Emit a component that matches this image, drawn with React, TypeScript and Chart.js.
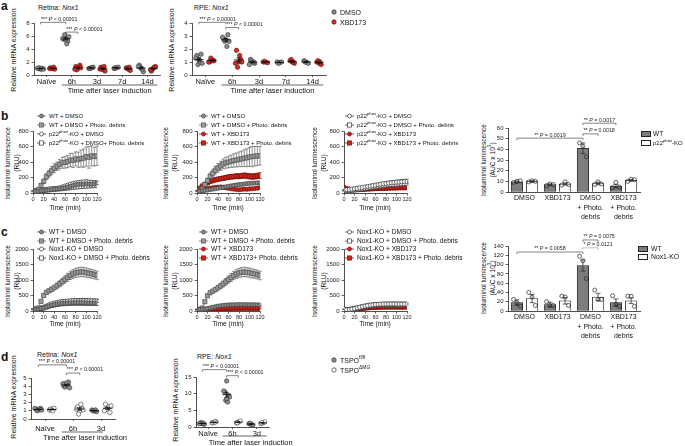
import React, { useEffect, useRef } from "react";
import { Chart, registerables } from "chart.js";

Chart.register(...registerables);

const FONT = "'Liberation Sans', Arial, Helvetica, sans-serif";
Chart.defaults.font.family = FONT;
Chart.defaults.color = "#1a1a1a";

// ================= DATA =================
const TIME_MIN = [0, 5, 10, 15, 20, 25, 30, 35, 40, 45, 50, 55, 60, 65, 70, 75, 80, 85, 90, 95, 100, 105, 110, 115, 120];

// ---- panel a (relative mRNA, dot plots) ----
const A_CATS = ["Naïve", "6h", "3d", "7d", "14d"];
const A1_DMSO = [[0.9, 1.0, 1.0, 1.1, 0.95, 1.05, 0.9], [5.8, 5.5, 5.2, 6.2, 4.8, 5.6, 5.9, 5.4], [1.1, 1.0, 1.2, 1.0, 1.1], [1.1, 1.0, 1.2, 1.1], [1.0, 1.5, 0.5, 1.2, 0.9, 1.3]];
const A1_XBD = [[1.0, 1.1, 0.9, 1.0, 1.2, 1.0], [1.0, 1.3, 1.5, 0.8, 1.2, 0.9, 1.1], [0.8, 1.2, 0.6, 1.0, 1.3, 0.9], [0.9, 1.1, 0.7, 1.0, 1.2], [1.1, 0.6, 1.3, 0.9, 1.2, 0.8]];
const A2_DMSO = [[1.2, 1.5, 1.6, 0.8, 1.0, 1.3, 0.9], [2.7, 2.8, 3.1, 2.6, 2.2, 2.9, 2.6], [1.0, 1.2, 0.9, 1.1, 1.0, 0.8], [0.95, 1.0, 1.0, 0.9], [1.0, 1.1, 0.9, 1.0]];
const A2_XBD = [[1.2, 1.0, 1.1, 1.3, 1.1, 1.0], [1.0, 1.9, 1.2, 0.6, 1.5, 0.9, 1.0], [1.0, 1.0, 0.95, 1.05], [1.0, 1.1, 0.9, 1.2, 1.0], [0.9, 1.0, 0.8, 1.1, 1.0]];

// ---- panel d ----
const D_CATS = ["Naïve", "6h", "3d"];
const D1_FL = [[1.1, 1.2, 1.3, 1.0, 1.2, 1.3, 1.1], [4.2, 4.0, 4.5, 3.9, 4.1, 4.3, 3.8, 4.4], [1.0, 1.1, 0.9, 1.0, 1.1]];
const D1_DMG = [[1.2, 1.1, 1.3, 1.2, 1.0], [1.0, 1.5, 1.3, 0.6, 1.8, 1.2, 1.1], [1.3, 1.8, 0.8, 1.2, 1.5, 1.0, 1.6]];
const D2_FL = [[1.0, 1.2, 0.8, 1.3, 1.1, 1.0], [13.8, 10.5, 9.5, 8.0, 7.5, 10.8, 9.0, 8.5], [0.8, 1.0, 0.6, 1.1]];
const D2_DMG = [[1.4, 1.2, 1.6, 1.3, 1.5], [1.5, 1.2, 1.8, 1.3], [1.2, 1.0, 1.5, 1.3]];

// ---- panel b time courses (RLU) ----
const B1_WT_DMSO = [18, 20, 24, 28, 32, 36, 40, 44, 48, 52, 56, 62, 68, 75, 85, 95, 105, 110, 115, 112, 118, 115, 112, 118, 120];
const B1_WT_DEBRIS = [20, 30, 45, 100, 150, 210, 250, 290, 320, 345, 370, 390, 395, 405, 425, 420, 440, 430, 445, 450, 470, 460, 480, 470, 480];
const B1_WT_DEBRIS_ERR = [6, 8, 14, 22, 30, 38, 44, 52, 58, 55, 62, 70, 74, 78, 85, 92, 90, 98, 110, 118, 125, 140, 130, 120, 125];
const B1_KO_DMSO = [28, 30, 35, 38, 42, 48, 52, 55, 58, 62, 68, 78, 90, 100, 112, 122, 130, 135, 140, 142, 145, 140, 138, 135, 132];
const B1_KO_DMSO_ERR = [5, 5, 6, 6, 7, 8, 8, 9, 10, 10, 12, 12, 14, 15, 16, 18, 18, 20, 20, 20, 22, 22, 22, 22, 22];
const B1_KO_DEBRIS = [20, 24, 28, 32, 36, 40, 44, 46, 50, 52, 56, 58, 62, 66, 70, 75, 78, 82, 85, 88, 90, 92, 95, 96, 98];

const B2_WT_DMSO = [20, 24, 28, 32, 38, 44, 50, 56, 62, 68, 74, 80, 86, 92, 98, 104, 108, 112, 116, 120, 124, 126, 128, 130, 132];
const B2_WT_DEBRIS = [22, 32, 50, 110, 160, 215, 255, 295, 325, 350, 375, 390, 400, 410, 420, 425, 435, 440, 450, 455, 465, 470, 475, 478, 482];
const B2_WT_DEBRIS_ERR = [6, 9, 15, 24, 32, 40, 46, 50, 56, 60, 64, 70, 75, 80, 86, 90, 95, 100, 108, 115, 122, 130, 125, 122, 120];
const B2_WT_XBD = [30, 35, 40, 48, 55, 62, 68, 72, 75, 78, 72, 66, 60, 55, 50, 45, 42, 45, 50, 48, 52, 55, 58, 62, 70];
const B2_WT_XBD_DEBRIS = [30, 60, 90, 110, 130, 150, 160, 170, 178, 185, 190, 198, 205, 210, 212, 218, 215, 220, 225, 220, 216, 212, 215, 220, 225];
const B2_WT_XBD_DEBRIS_ERR = [5, 8, 12, 15, 18, 20, 22, 24, 25, 26, 28, 28, 30, 30, 30, 32, 32, 33, 34, 35, 35, 36, 36, 36, 38];

const B3_KO_DMSO = [40, 42, 46, 50, 55, 60, 66, 72, 78, 84, 90, 96, 102, 108, 114, 120, 124, 128, 132, 136, 140, 142, 145, 148, 150];
const B3_KO_DMSO_ERR = [8, 8, 9, 10, 10, 12, 12, 14, 14, 15, 16, 16, 18, 18, 20, 20, 22, 22, 24, 24, 25, 26, 26, 28, 28];
const B3_KO_DEBRIS = [30, 32, 35, 40, 44, 48, 52, 56, 60, 66, 72, 78, 84, 90, 95, 100, 104, 108, 110, 112, 115, 118, 120, 122, 125];
const B3_KO_DEBRIS_ERR = [6, 6, 7, 8, 8, 10, 10, 12, 12, 13, 14, 14, 15, 16, 16, 18, 18, 18, 20, 20, 20, 22, 22, 22, 22];
const B3_KO_XBD = [75, 60, 50, 45, 45, 48, 50, 52, 55, 58, 60, 62, 62, 64, 65, 66, 68, 70, 70, 72, 72, 74, 75, 76, 78];
const B3_KO_XBD_DEBRIS = [55, 48, 42, 40, 42, 44, 46, 48, 50, 52, 54, 56, 58, 60, 60, 62, 62, 64, 65, 66, 66, 68, 68, 70, 70];

// ---- panel c time courses (RLU) ----
const C1_WT_DMSO = [55, 50, 60, 80, 100, 130, 160, 185, 205, 225, 240, 250, 255, 260, 262, 265, 268, 270, 268, 265, 262, 260, 258, 255, 252];
const C1_WT_DEBRIS = [50, 60, 100, 310, 500, 600, 650, 700, 755, 815, 880, 950, 1020, 1085, 1150, 1195, 1230, 1250, 1262, 1255, 1240, 1220, 1200, 1180, 1150];
const C1_WT_DEBRIS_ERR = [10, 12, 20, 40, 50, 55, 60, 70, 75, 85, 95, 105, 115, 125, 135, 140, 145, 150, 150, 150, 148, 145, 140, 140, 138];
const C1_KO_DMSO = [60, 55, 65, 90, 120, 160, 200, 230, 255, 275, 295, 305, 315, 320, 325, 328, 330, 330, 330, 328, 326, 325, 324, 322, 320];
const C1_KO_DMSO_ERR = [10, 10, 12, 15, 20, 25, 30, 35, 38, 40, 42, 44, 45, 46, 48, 48, 50, 50, 50, 50, 50, 50, 50, 50, 50];
const C1_KO_DEBRIS = [50, 50, 58, 80, 100, 130, 160, 185, 205, 225, 245, 258, 268, 275, 280, 285, 288, 290, 290, 288, 286, 285, 284, 282, 280];
const C1_KO_DEBRIS_ERR = [10, 12, 15, 20, 30, 40, 50, 60, 70, 80, 85, 90, 95, 100, 100, 105, 105, 108, 110, 110, 110, 108, 108, 106, 105];

const C2_WT_DMSO = [50, 48, 55, 65, 80, 100, 120, 140, 158, 170, 180, 188, 195, 200, 202, 205, 206, 207, 206, 205, 204, 203, 202, 201, 200];
const C2_WT_DMSO_ERR = [8, 8, 10, 12, 15, 18, 20, 22, 24, 26, 28, 30, 30, 31, 32, 32, 33, 33, 33, 32, 32, 32, 31, 31, 30];
const C2_WT_DEBRIS = [50, 55, 95, 300, 490, 590, 640, 690, 750, 810, 875, 945, 1015, 1080, 1145, 1190, 1228, 1248, 1260, 1250, 1235, 1215, 1195, 1175, 1145];
const C2_WT_DEBRIS_ERR = [10, 12, 20, 40, 50, 55, 60, 70, 75, 85, 95, 105, 115, 125, 135, 140, 145, 150, 150, 150, 148, 145, 140, 140, 138];
const C2_WT_XBD = [40, 40, 45, 52, 58, 65, 72, 78, 84, 88, 92, 95, 98, 100, 102, 104, 104, 105, 105, 105, 104, 104, 103, 103, 102];
const C2_WT_XBD_ERR = [6, 6, 8, 10, 12, 14, 16, 18, 20, 22, 24, 25, 26, 27, 28, 28, 29, 29, 30, 30, 30, 30, 30, 30, 30];
const C2_WT_XBD_DEBRIS = [30, 34, 38, 44, 50, 56, 62, 67, 72, 76, 80, 83, 86, 88, 90, 91, 92, 92, 93, 93, 92, 92, 92, 91, 90];

const C3_KO_DMSO = [60, 40, 48, 62, 80, 100, 122, 142, 160, 176, 190, 200, 210, 216, 220, 222, 225, 226, 226, 226, 225, 225, 224, 224, 224];
const C3_KO_DMSO_ERR = [8, 6, 8, 10, 12, 14, 16, 18, 20, 22, 24, 25, 26, 27, 28, 28, 29, 29, 30, 30, 30, 30, 30, 30, 30];
const C3_KO_DEBRIS = [50, 38, 46, 58, 72, 90, 110, 130, 148, 164, 178, 190, 200, 206, 210, 212, 214, 215, 216, 216, 215, 215, 215, 214, 214];
const C3_KO_XBD = [40, 38, 44, 52, 62, 72, 82, 92, 102, 110, 118, 124, 128, 131, 133, 135, 136, 136, 137, 137, 137, 136, 136, 136, 135];
const C3_KO_XBD_DEBRIS = [42, 40, 45, 50, 60, 70, 80, 90, 98, 106, 113, 118, 122, 125, 128, 129, 130, 131, 131, 131, 131, 130, 130, 130, 130];

// ---- bar charts (AUC x 10^3) ----
const BAR_CATS = [["DMSO"], ["XBD173"], ["DMSO", "+ Photo.", "debris"], ["XBD173", "+ Photo.", "debris"]];
const B4_WT = [9.5, 7, 41, 5.5];
const B4_WT_ERR = [0.8, 0.6, 5, 1.6];
const B4_WT_PTS = [[9, 10, 10.5], [6, 7.5, 7], [46, 43, 33], [4, 9, 4.5]];
const B4_KO = [10, 7.5, 8, 11];
const B4_KO_ERR = [0.6, 1, 1.2, 0.8];
const B4_KO_PTS = [[9.5, 10.5, 10], [6.5, 9.5, 7], [7, 9.5, 7.5], [10, 12, 11.5]];

const C4_WT = [18, 14, 98, 18];
const C4_WT_ERR = [6, 5, 12, 8];
const C4_WT_PTS = [[25, 18, 10], [20, 12, 12], [118, 108, 70], [33, 15, 10]];
const C4_KO = [27, 22, 30, 22];
const C4_KO_ERR = [9, 7, 8, 6];
const C4_KO_PTS = [[40, 30, 12], [32, 30, 12], [45, 25, 25], [32, 32, 10]];

// ================= STYLES =================
const ST: any = {
  wtDmso: { shape: "circle", fill: "#8a8a8a", stroke: "#3c3c3c", line: "#555" },
  wtDebris: { shape: "rect", fill: "#9b9b9b", stroke: "#505050", line: "#666" },
  koDmso: { shape: "circle", fill: "#ffffff", stroke: "#333", line: "#444" },
  koDebris: { shape: "rect", fill: "#ffffff", stroke: "#333", line: "#444" },
  xbd: { shape: "circle", fill: "#d3231b", stroke: "#6a120e", line: "#8a1a14" },
  xbdDebris: { shape: "rect", fill: "#d3231b", stroke: "#6a120e", line: "#8a1a14" },
  dotGray: { fill: "#8e8e8e", stroke: "#2e2e2e" },
  dotRed: { fill: "#d42a20", stroke: "#5e1410" },
  dotOpen: { fill: "#ffffff", stroke: "#333" },
};

const GRID = { display: true, drawOnChartArea: false, drawTicks: true, tickLength: 2.5, color: "#222", lineWidth: 0.7 };
const BORDER = { display: true, color: "#222", width: 0.8 };
const OFF = 0.24;
const JIT = [0, -0.08, 0.08, -0.04, 0.04, -0.12, 0.12, 0.0, -0.06, 0.06];
const plain = (v: any) => String(v);
const YTICK = { font: { size: 6 }, padding: 2, color: "#222", callback: plain, autoSkip: false };

// ================= PLUGIN =================
function drawErrors(chart: any, after: boolean) {
  const ctx = chart.ctx;
  const ys = chart.scales.y;
  chart.data.datasets.forEach((ds: any, di: number) => {
    if (!ds.errors || !!ds.errAfter !== after) return;
    const meta = chart.getDatasetMeta(di);
    ctx.save();
    ctx.strokeStyle = ds.errColor || "#333";
    ctx.lineWidth = 0.7;
    meta.data.forEach((el: any, i: number) => {
      const e = ds.errors[i];
      if (!e) return;
      const v = ds.data[i].y;
      const x = el.x;
      const yTop = ys.getPixelForValue(v + e);
      const yBot = ys.getPixelForValue(v - e);
      const cap = ds.errCap ?? 2;
      ctx.beginPath();
      ctx.moveTo(x, yTop);
      ctx.lineTo(x, yBot);
      ctx.moveTo(x - cap, yTop);
      ctx.lineTo(x + cap, yTop);
      ctx.moveTo(x - cap, yBot);
      ctx.lineTo(x + cap, yBot);
      ctx.stroke();
    });
    ctx.restore();
  });
}

const extrasPlugin = {
  id: "extras",
  beforeDatasetsDraw(chart: any) {
    drawErrors(chart, false);
  },
  afterDatasetsDraw(chart: any) {
    drawErrors(chart, true);
    const cfg = chart.options.plugins.extras || {};
    const ctx = chart.ctx;
    const xs = chart.scales.x;
    const ys = chart.scales.y;
    const unit = xs.getPixelForValue(1) - xs.getPixelForValue(0);
    ctx.save();
    // mean +/- SEM for dot plots
    chart.data.datasets.forEach((ds: any) => {
      if (!ds.summary) return;
      ds.summary.forEach((g: any) => {
        const n = g.vals.length;
        const mean = g.vals.reduce((a: number, b: number) => a + b, 0) / n;
        const sd = Math.sqrt(g.vals.reduce((a: number, b: number) => a + (b - mean) ** 2, 0) / (n - 1));
        const sem = sd / Math.sqrt(n);
        const cx = xs.getPixelForValue(g.x);
        const my = ys.getPixelForValue(mean);
        const t = ys.getPixelForValue(mean + sem);
        const b = ys.getPixelForValue(mean - sem);
        ctx.strokeStyle = "#111";
        ctx.lineWidth = 0.9;
        ctx.beginPath();
        ctx.moveTo(cx - 0.17 * unit, my);
        ctx.lineTo(cx + 0.17 * unit, my);
        ctx.moveTo(cx, t);
        ctx.lineTo(cx, b);
        ctx.moveTo(cx - 0.08 * unit, t);
        ctx.lineTo(cx + 0.08 * unit, t);
        ctx.moveTo(cx - 0.08 * unit, b);
        ctx.lineTo(cx + 0.08 * unit, b);
        ctx.stroke();
      });
    });
    // significance brackets
    (cfg.brackets || []).forEach((br: any) => {
      const x1 = xs.getPixelForValue(br.x1);
      const x2 = xs.getPixelForValue(br.x2);
      const y = ys.getPixelForValue(br.y);
      const col = br.color || "#333";
      ctx.strokeStyle = col;
      ctx.lineWidth = 0.6;
      ctx.beginPath();
      ctx.moveTo(x1, y + 2);
      ctx.lineTo(x1, y);
      ctx.lineTo(x2, y);
      ctx.lineTo(x2, y + 2);
      ctx.stroke();
      const fs = br.size || 5.3;
      const nf = `${fs}px ${FONT}`;
      const itf = `italic ${fs}px ${FONT}`;
      const p1 = br.stars + " ";
      const p2 = "P";
      const p3 = " " + br.p;
      ctx.font = nf;
      const w1 = ctx.measureText(p1).width;
      const w3 = ctx.measureText(p3).width;
      ctx.font = itf;
      const w2 = ctx.measureText(p2).width;
      const total = w1 + w2 + w3;
      const sx = br.align === "center" ? (x1 + x2) / 2 - total / 2 : x1 + 0.5;
      const by = y - 1.6;
      ctx.fillStyle = "#222";
      ctx.textBaseline = "alphabetic";
      ctx.textAlign = "left";
      ctx.font = nf;
      ctx.fillText(p1, sx, by);
      ctx.font = itf;
      ctx.fillText(p2, sx + w1, by);
      ctx.font = nf;
      ctx.fillText(p3, sx + w1 + w2, by);
    });
    // group label below the axis
    if (cfg.group) {
      const g = cfg.group;
      const x1 = xs.getPixelForValue(g.from);
      const x2 = xs.getPixelForValue(g.to);
      const bottom = chart.chartArea.bottom;
      ctx.strokeStyle = "#222";
      ctx.lineWidth = 0.7;
      ctx.beginPath();
      ctx.moveTo(x1, bottom + g.lineOff);
      ctx.lineTo(x2, bottom + g.lineOff);
      ctx.stroke();
      ctx.fillStyle = "#111";
      ctx.font = `7.5px ${FONT}`;
      ctx.textAlign = "center";
      ctx.textBaseline = "middle";
      const tx = g.textX !== undefined ? xs.getPixelForValue(g.textX) : (x1 + x2) / 2;
      ctx.fillText(g.text, tx, bottom + g.textOff);
    }
    ctx.restore();
  },
};

// ================= CONFIG BUILDERS =================
function dotSeries(groups: number[][], side: number, st: any) {
  const data: any[] = [];
  groups.forEach((vals, ci) => vals.forEach((v, k) => data.push({ x: ci + side * OFF + JIT[k % JIT.length], y: v })));
  return {
    type: "scatter",
    data,
    summary: groups.map((vals, ci) => ({ x: ci + side * OFF, vals })),
    pointRadius: 2.2,
    pointBackgroundColor: st.fill,
    pointBorderColor: st.stroke,
    pointBorderWidth: 0.6,
  };
}

function dotConfig(p: any) {
  return {
    type: "scatter",
    data: { datasets: [dotSeries(p.a, -1, p.stA), dotSeries(p.b, 1, p.stB)] },
    options: {
      animation: false,
      responsive: false,
      events: [],
      plugins: { legend: { display: false }, tooltip: { enabled: false }, extras: { brackets: p.brackets, group: p.group } },
      scales: {
        x: {
          type: "linear",
          min: -0.5,
          max: p.cats.length - 0.5,
          offset: false,
          afterBuildTicks: (s: any) => {
            s.ticks = p.cats.map((_: any, i: number) => ({ value: i }));
          },
          ticks: { callback: (v: any) => p.cats[v], font: { size: 7.5 }, color: "#111", padding: p.xPad ?? 0, autoSkip: false, maxRotation: 0 },
          grid: { ...GRID, tickLength: 2 },
          border: BORDER,
        },
        y: {
          min: 0,
          max: p.yMax,
          ticks: { ...YTICK, stepSize: p.yStep },
          grid: GRID,
          border: BORDER,
        },
      },
    },
    plugins: [extrasPlugin],
  };
}

function tcSeries(values: number[], errs: number[] | null, st: any) {
  return {
    type: "line",
    data: values.map((v, i) => ({ x: TIME_MIN[i], y: v })),
    errors: errs,
    errColor: st.line,
    errCap: 1.8,
    borderColor: st.line,
    borderWidth: 0.8,
    pointStyle: st.shape === "rect" ? "rect" : "circle",
    pointRadius: st.shape === "rect" ? 3.0 : 2.1,
    pointBackgroundColor: st.fill,
    pointBorderColor: st.stroke,
    pointBorderWidth: 0.7,
    fill: false,
    tension: 0,
  };
}

function tcConfig(series: any[], yMax: number, yStep: number) {
  return {
    type: "line",
    data: { datasets: series },
    options: {
      animation: false,
      responsive: false,
      events: [],
      plugins: { legend: { display: false }, tooltip: { enabled: false }, extras: {} },
      scales: {
        x: {
          type: "linear",
          min: 0,
          max: 120,
          offset: false,
          ticks: { stepSize: 20, font: { size: 5.5 }, padding: 1, maxRotation: 0, color: "#222", callback: plain, autoSkip: false },
          grid: GRID,
          border: BORDER,
        },
        y: {
          min: 0,
          max: yMax,
          ticks: { ...YTICK, stepSize: yStep },
          grid: GRID,
          border: BORDER,
        },
      },
    },
    plugins: [extrasPlugin],
  };
}

function barConfig(p: any) {
  const pts = (groups: number[][], side: number) => {
    const d: any[] = [];
    groups.forEach((vals, ci) => vals.forEach((v, k) => d.push({ x: ci + side * 0.23 + [-0.1, 0, 0.1][k % 3], y: v })));
    return d;
  };
  return {
    type: "bar",
    data: {
      datasets: [
        { type: "scatter", order: 0, data: pts(p.wtPts, -1), pointRadius: 2, pointBackgroundColor: "rgba(255,255,255,0)", pointBorderColor: "#222", pointBorderWidth: 0.7 },
        { type: "scatter", order: 0, data: pts(p.koPts, 1), pointRadius: 2, pointBackgroundColor: "rgba(255,255,255,0)", pointBorderColor: "#222", pointBorderWidth: 0.7 },
        {
          type: "bar", order: 1, grouped: false, barThickness: 11.5,
          data: p.wt.map((v: number, i: number) => ({ x: i - 0.23, y: v })),
          backgroundColor: "#7d7d7d", borderColor: "#222", borderWidth: 0.8,
          errors: p.wtErr, errAfter: true, errCap: 2.5, errColor: "#222",
        },
        {
          type: "bar", order: 1, grouped: false, barThickness: 11.5,
          data: p.ko.map((v: number, i: number) => ({ x: i + 0.23, y: v })),
          backgroundColor: "#ffffff", borderColor: "#222", borderWidth: 0.8,
          errors: p.koErr, errAfter: true, errCap: 2.5, errColor: "#222",
        },
      ],
    },
    options: {
      animation: false,
      responsive: false,
      events: [],
      plugins: { legend: { display: false }, tooltip: { enabled: false }, extras: { brackets: p.brackets } },
      scales: {
        x: {
          type: "linear",
          min: -0.5,
          max: 3.5,
          offset: false,
          afterBuildTicks: (s: any) => {
            s.ticks = BAR_CATS.map((_, i) => ({ value: i }));
          },
          ticks: { callback: (v: any) => BAR_CATS[v], font: { size: 7, lineHeight: 1.4 }, color: "#111", padding: 1, autoSkip: false, maxRotation: 0 },
          grid: { display: false, drawTicks: false, offset: false },
          border: BORDER,
        },
        y: {
          min: 0,
          max: p.yMax,
          ticks: { ...YTICK, stepSize: p.yStep },
          grid: GRID,
          border: BORDER,
        },
      },
    },
    plugins: [extrasPlugin],
  };
}

// ================= COMPONENTS =================
function Panel({ area, pad, yW, xH, make }: any) {
  const ref = useRef<HTMLCanvasElement>(null);
  const w = area.r - area.l + yW + pad.l + pad.r;
  const h = area.b - area.t + xH + pad.t + pad.b;
  useEffect(() => {
    const cfg: any = make();
    cfg.options.layout = { autoPadding: false, padding: { left: pad.l, top: pad.t, right: pad.r, bottom: pad.b } };
    cfg.options.scales.x.afterFit = (s: any) => {
      s.height = xH;
      s.paddingLeft = 0;
      s.paddingRight = 0;
    };
    cfg.options.scales.y.afterFit = (s: any) => {
      s.width = yW;
      s.paddingTop = 0;
      s.paddingBottom = 0;
    };
    const chart = new Chart(ref.current as HTMLCanvasElement, cfg);
    return () => chart.destroy();
  }, []);
  return (
    <canvas
      ref={ref}
      width={w}
      height={h}
      style={{ position: "absolute", left: area.l - yW - pad.l, top: area.t - pad.t, width: w, height: h }}
    />
  );
}

const Txt = ({ x, y, size = 7, children, bold, rot, center, lh }: any) => (
  <div
    style={{
      position: "absolute",
      left: x,
      top: y,
      fontSize: size,
      fontWeight: bold ? 700 : 400,
      whiteSpace: "nowrap",
      lineHeight: lh ? lh + "px" : 1,
      textAlign: "center",
      color: "#111",
      transform: rot ? "translate(-50%,-50%) rotate(-90deg)" : center ? "translate(-50%,-50%)" : "translateY(-50%)",
    }}
  >
    {children}
  </div>
);

const Sup = ({ children }: any) => <sup style={{ fontSize: "70%", verticalAlign: "super", lineHeight: 0 }}>{children}</sup>;

const Mark = ({ x, y, st, w = 9 }: any) => (
  <svg style={{ position: "absolute", left: x, top: y - 4 }} width={w} height={8}>
    <line x1={0} y1={4} x2={w} y2={4} stroke={st.line} strokeWidth={0.8} />
    {st.shape === "rect" ? (
      <rect x={w / 2 - 2.1} y={1.9} width={4.2} height={4.2} fill={st.fill} stroke={st.stroke} strokeWidth={0.7} />
    ) : (
      <circle cx={w / 2} cy={4} r={2} fill={st.fill} stroke={st.stroke} strokeWidth={0.7} />
    )}
  </svg>
);

const Dot = ({ x, y, st }: any) => (
  <svg style={{ position: "absolute", left: x - 3, top: y - 3 }} width={6} height={6}>
    <circle cx={3} cy={3} r={2.2} fill={st.fill} stroke={st.stroke} strokeWidth={0.7} />
  </svg>
);

const Box = ({ x, y, fill }: any) => (
  <div style={{ position: "absolute", left: x, top: y - 3, width: 10, height: 6, background: fill, border: "0.8px solid #222", boxSizing: "border-box" }} />
);

function Legend({ x, ys, items, size }: any) {
  return (
    <>
      {items.map((it: any, i: number) => (
        <React.Fragment key={i}>
          <Mark x={x} y={ys[i]} st={it.st} />
          <Txt x={x + 12} y={ys[i]} size={size}>
            {it.text}
          </Txt>
        </React.Fragment>
      ))}
    </>
  );
}

const YTitle2 = ({ x, y, l1, l2 }: any) => (
  <div
    style={{
      position: "absolute",
      left: x,
      top: y,
      fontSize: 6.6,
      lineHeight: "8.5px",
      whiteSpace: "nowrap",
      textAlign: "center",
      color: "#111",
      transform: "translate(-50%,-50%) rotate(-90deg)",
    }}
  >
    <div>{l1}</div>
    <div>{l2}</div>
  </div>
);

const DOT_PAD = { l: 2, t: 22, r: 26, b: 12 };
const TC_PAD = { l: 2, t: 6, r: 10, b: 2 };
const BAR_PAD = { l: 2, t: 22, r: 4, b: 2 };

const p22 = (
  <>
    p22<Sup>phox</Sup>-KO
  </>
);

export default function App() {
  const groupA = { from: 1 - 0.4, to: 4 + 0.4, text: "Time after laser induction", lineOff: 10, textOff: 16 };
  return (
    <div style={{ position: "absolute", left: 0, top: 0, width: 685, height: 446, background: "#fff", fontFamily: FONT, overflow: "hidden" }}>
      {/* ===== a ===== */}
      <Txt x={1} y={6} size={12} bold>a</Txt>
      <Txt x={38} y={7} size={7}>Retina: <i>Nox1</i></Txt>
      <Txt x={194} y={7} size={7}>RPE: <i>Nox1</i></Txt>
      <Txt x={13} y={50} size={7} rot>Relative mRNA expression</Txt>
      <Txt x={171} y={50} size={7} rot>Relative mRNA expression</Txt>
      <Panel
        area={{ l: 34, t: 23, r: 160, b: 75 }} pad={DOT_PAD} yW={14} xH={12}
        make={() => dotConfig({
          cats: A_CATS, a: A1_DMSO, b: A1_XBD, stA: ST.dotGray, stB: ST.dotRed, yMax: 8, yStep: 2,
          brackets: [
            { x1: -OFF, x2: 1 - OFF, y: 8.1, stars: "***", p: "< 0.00001" },
            { x1: 1 - OFF, x2: 1 + OFF, y: 6.6, stars: "***", p: "< 0.00001" },
          ],
          group: groupA,
        })}
      />
      <Panel
        area={{ l: 192, t: 23, r: 326, b: 75 }} pad={DOT_PAD} yW={14} xH={12}
        make={() => dotConfig({
          cats: A_CATS, a: A2_DMSO, b: A2_XBD, stA: ST.dotGray, stB: ST.dotRed, yMax: 4, yStep: 1,
          brackets: [
            { x1: -OFF, x2: 1 - OFF, y: 4.05, stars: "***", p: "< 0.00001" },
            { x1: 1 - OFF, x2: 1 + OFF, y: 3.65, stars: "***", p: "< 0.00001" },
          ],
          group: groupA,
        })}
      />
      <Dot x={334} y={12} st={ST.dotGray} />
      <Txt x={340} y={12} size={7}>DMSO</Txt>
      <Dot x={334} y={22} st={ST.dotRed} />
      <Txt x={340} y={22} size={7}>XBD173</Txt>

      {/* ===== b ===== */}
      <Txt x={1} y={116} size={12} bold>b</Txt>
      <YTitle2 x={12} y={163} l1="Isoluminol luminescence" l2="(RLU)" />
      <YTitle2 x={170} y={163} l1="Isoluminol luminescence" l2="(RLU)" />
      <YTitle2 x={319} y={163} l1="Isoluminol luminescence" l2="(RLU)" />
      <YTitle2 x={488} y={160} l1="Isoluminol luminescence" l2={<>(AUC x 10<Sup>3</Sup>)</>} />
      <Panel
        area={{ l: 33, t: 131, r: 97, b: 193 }} pad={TC_PAD} yW={20} xH={10}
        make={() => tcConfig([
          tcSeries(B1_WT_DMSO, null, ST.wtDmso),
          tcSeries(B1_WT_DEBRIS, B1_WT_DEBRIS_ERR, ST.wtDebris),
          tcSeries(B1_KO_DMSO, B1_KO_DMSO_ERR, ST.koDmso),
          tcSeries(B1_KO_DEBRIS, null, ST.koDebris),
        ], 800, 200)}
      />
      <Panel
        area={{ l: 197, t: 131, r: 260, b: 193 }} pad={TC_PAD} yW={20} xH={10}
        make={() => tcConfig([
          tcSeries(B2_WT_DMSO, null, ST.wtDmso),
          tcSeries(B2_WT_DEBRIS, B2_WT_DEBRIS_ERR, ST.wtDebris),
          tcSeries(B2_WT_XBD, null, ST.xbd),
          tcSeries(B2_WT_XBD_DEBRIS, B2_WT_XBD_DEBRIS_ERR, ST.xbdDebris),
        ], 800, 200)}
      />
      <Panel
        area={{ l: 344, t: 131, r: 407, b: 193 }} pad={TC_PAD} yW={20} xH={10}
        make={() => tcConfig([
          tcSeries(B3_KO_DMSO, B3_KO_DMSO_ERR, ST.koDmso),
          tcSeries(B3_KO_DEBRIS, B3_KO_DEBRIS_ERR, ST.koDebris),
          tcSeries(B3_KO_XBD, null, ST.xbd),
          tcSeries(B3_KO_XBD_DEBRIS, null, ST.xbdDebris),
        ], 800, 200)}
      />
      <Txt x={65} y={208} size={6.7} center>Time (min)</Txt>
      <Txt x={228} y={208} size={6.7} center>Time (min)</Txt>
      <Txt x={375} y={208} size={6.7} center>Time (min)</Txt>
      <Legend x={37} ys={[116, 125, 134, 143]} size={6} items={[
        { st: ST.wtDmso, text: "WT + DMSO" },
        { st: ST.wtDebris, text: "WT + DMSO + Photo. debris" },
        { st: ST.koDmso, text: <>{p22} + DMSO</> },
        { st: ST.koDebris, text: <>{p22} + DMSO+ Photo. debris</> },
      ]} />
      <Legend x={199} ys={[116, 125, 134, 143]} size={6} items={[
        { st: ST.wtDmso, text: "WT + DMSO" },
        { st: ST.wtDebris, text: "WT + DMSO + Photo. debris" },
        { st: ST.xbd, text: "WT + XBD173" },
        { st: ST.xbdDebris, text: "WT + XBD173 + Photo. debris" },
      ]} />
      <Legend x={345} ys={[116, 125, 134, 143]} size={6} items={[
        { st: ST.koDmso, text: <>{p22} + DMSO</> },
        { st: ST.koDebris, text: <>{p22} + DMSO + Photo. debris</> },
        { st: ST.xbd, text: <>{p22} + XBD173</> },
        { st: ST.xbdDebris, text: <>{p22} + XBD173 + Photo. debris</> },
      ]} />
      <Panel
        area={{ l: 508, t: 128, r: 640, b: 192 }} pad={BAR_PAD} yW={16} xH={32}
        make={() => barConfig({
          wt: B4_WT, wtErr: B4_WT_ERR, wtPts: B4_WT_PTS, ko: B4_KO, koErr: B4_KO_ERR, koPts: B4_KO_PTS, yMax: 60, yStep: 10,
          brackets: [
            { x1: -0.23, x2: 1.77, y: 50.5, stars: "**", p: "= 0.0019", align: "center" },
            { x1: 1.77, x2: 2.23, y: 54.5, stars: "**", p: "= 0.0018" },
            { x1: 1.77, x2: 2.77, y: 64.5, stars: "**", p: "= 0.0017", align: "center" },
          ],
        })}
      />
      <Box x={641} y={134} fill="#7d7d7d" />
      <Txt x={653} y={134} size={6.5}>WT</Txt>
      <Box x={641} y={143} fill="#fff" />
      <Txt x={653} y={143} size={6}>{p22}</Txt>

      {/* ===== c ===== */}
      <Txt x={1} y={232} size={12} bold>c</Txt>
      <YTitle2 x={12} y={281} l1="Isoluminol luminescence" l2="(RLU)" />
      <YTitle2 x={170} y={281} l1="Isoluminol luminescence" l2="(RLU)" />
      <YTitle2 x={319} y={281} l1="Isoluminol luminescence" l2="(RLU)" />
      <YTitle2 x={488} y={278} l1="Isoluminol luminescence" l2={<>(AUC x 10<Sup>3</Sup>)</>} />
      <Panel
        area={{ l: 33, t: 249, r: 97, b: 311 }} pad={TC_PAD} yW={20} xH={10}
        make={() => tcConfig([
          tcSeries(C1_WT_DMSO, null, ST.wtDmso),
          tcSeries(C1_WT_DEBRIS, C1_WT_DEBRIS_ERR, ST.wtDebris),
          tcSeries(C1_KO_DMSO, C1_KO_DMSO_ERR, ST.koDmso),
          tcSeries(C1_KO_DEBRIS, C1_KO_DEBRIS_ERR, ST.koDebris),
        ], 2000, 500)}
      />
      <Panel
        area={{ l: 197, t: 249, r: 260, b: 311 }} pad={TC_PAD} yW={20} xH={10}
        make={() => tcConfig([
          tcSeries(C2_WT_DMSO, C2_WT_DMSO_ERR, ST.wtDmso),
          tcSeries(C2_WT_DEBRIS, C2_WT_DEBRIS_ERR, ST.wtDebris),
          tcSeries(C2_WT_XBD, C2_WT_XBD_ERR, ST.xbd),
          tcSeries(C2_WT_XBD_DEBRIS, null, ST.xbdDebris),
        ], 2000, 500)}
      />
      <Panel
        area={{ l: 344, t: 249, r: 407, b: 311 }} pad={TC_PAD} yW={20} xH={10}
        make={() => tcConfig([
          tcSeries(C3_KO_DMSO, C3_KO_DMSO_ERR, ST.koDmso),
          tcSeries(C3_KO_DEBRIS, null, ST.koDebris),
          tcSeries(C3_KO_XBD, null, ST.xbd),
          tcSeries(C3_KO_XBD_DEBRIS, null, ST.xbdDebris),
        ], 2000, 500)}
      />
      <Txt x={65} y={324} size={6.7} center>Time (min)</Txt>
      <Txt x={228} y={324} size={6.7} center>Time (min)</Txt>
      <Txt x={375} y={324} size={6.7} center>Time (min)</Txt>
      <Legend x={37} ys={[232, 241, 249, 258]} size={6.6} items={[
        { st: ST.wtDmso, text: "WT + DMSO" },
        { st: ST.wtDebris, text: "WT + DMSO + Photo. debris" },
        { st: ST.koDmso, text: "Nox1-KO + DMSO" },
        { st: ST.koDebris, text: "Nox1-KO + DMSO + Photo. debris" },
      ]} />
      <Legend x={199} ys={[232, 241, 249, 258]} size={6.6} items={[
        { st: ST.wtDmso, text: "WT + DMSO" },
        { st: ST.wtDebris, text: "WT + DMSO + Photo. debris" },
        { st: ST.xbd, text: "WT + XBD173" },
        { st: ST.xbdDebris, text: "WT + XBD173+ Photo. debris" },
      ]} />
      <Legend x={345} ys={[232, 241, 249, 258]} size={6.6} items={[
        { st: ST.koDmso, text: "Nox1-KO + DMSO" },
        { st: ST.koDebris, text: "Nox1-KO + DMSO + Photo. debris" },
        { st: ST.xbd, text: "Nox1-KO + XBD173" },
        { st: ST.xbdDebris, text: "Nox1-KO + XBD173  + Photo. debris" },
      ]} />
      <Panel
        area={{ l: 508, t: 246, r: 640, b: 311 }} pad={BAR_PAD} yW={16} xH={32}
        make={() => barConfig({
          wt: C4_WT, wtErr: C4_WT_ERR, wtPts: C4_WT_PTS, ko: C4_KO, koErr: C4_KO_ERR, koPts: C4_KO_PTS, yMax: 140, yStep: 20,
          brackets: [
            { x1: -0.23, x2: 1.77, y: 127, stars: "**", p: "= 0.0058", align: "center" },
            { x1: 1.77, x2: 2.23, y: 153, stars: "**", p: "= 0.0075" },
            { x1: 1.77, x2: 2.23, y: 136, stars: "*", p: "= 0.0121", color: "#999" },
          ],
        })}
      />
      <Box x={638} y={249} fill="#7d7d7d" />
      <Txt x={651} y={249} size={6.8}>WT</Txt>
      <Box x={638} y={257} fill="#fff" />
      <Txt x={651} y={257} size={6.8}>Nox1-KO</Txt>

      {/* ===== d ===== */}
      <Txt x={1} y={357} size={12} bold>d</Txt>
      <Txt x={37} y={354} size={7}>Retina: <i>Nox1</i></Txt>
      <Txt x={197} y={356} size={7}>RPE: <i>Nox1</i></Txt>
      <Txt x={13} y={397} size={7} rot>Relative mRNA expression</Txt>
      <Txt x={175} y={400} size={7} rot>Relative mRNA expression</Txt>
      <Panel
        area={{ l: 31, t: 378, r: 115, b: 419 }} pad={DOT_PAD} yW={14} xH={14}
        make={() => dotConfig({
          cats: D_CATS, a: D1_FL, b: D1_DMG, stA: ST.dotGray, stB: ST.dotOpen, yMax: 5, yStep: 1, xPad: 3,
          brackets: [
            { x1: -OFF, x2: 1 - OFF, y: 6.6, stars: "***", p: "< 0.00001" },
            { x1: 1 - OFF, x2: 1 + OFF, y: 5.6, stars: "***", p: "< 0.00001" },
          ],
          group: { from: 0.6, to: 2.07, text: "Time after laser induction", lineOff: 13, textOff: 18.5, textX: 1.43 },
        })}
      />
      <Panel
        area={{ l: 196, t: 377, r: 269, b: 427 }} pad={DOT_PAD} yW={14} xH={12}
        make={() => dotConfig({
          cats: D_CATS, a: D2_FL, b: D2_DMG, stA: ST.dotGray, stB: ST.dotOpen, yMax: 15, yStep: 5,
          brackets: [
            { x1: -OFF, x2: 1 - OFF, y: 17.2, stars: "***", p: "< 0.00001" },
            { x1: 1 - OFF, x2: 1 + OFF, y: 15.4, stars: "***", p: "< 0.00001" },
          ],
          group: { from: 0.6, to: 2.4, text: "Time after laser induction", lineOff: 9, textOff: 16, textX: 1.75 },
        })}
      />
      <Dot x={334} y={360} st={ST.dotGray} />
      <Txt x={340} y={360} size={7}>TSPO<Sup>fl/fl</Sup></Txt>
      <Dot x={334} y={370} st={ST.dotOpen} />
      <Txt x={340} y={370} size={7}>TSPO<Sup>ΔMG</Sup></Txt>
    </div>
  );
}
